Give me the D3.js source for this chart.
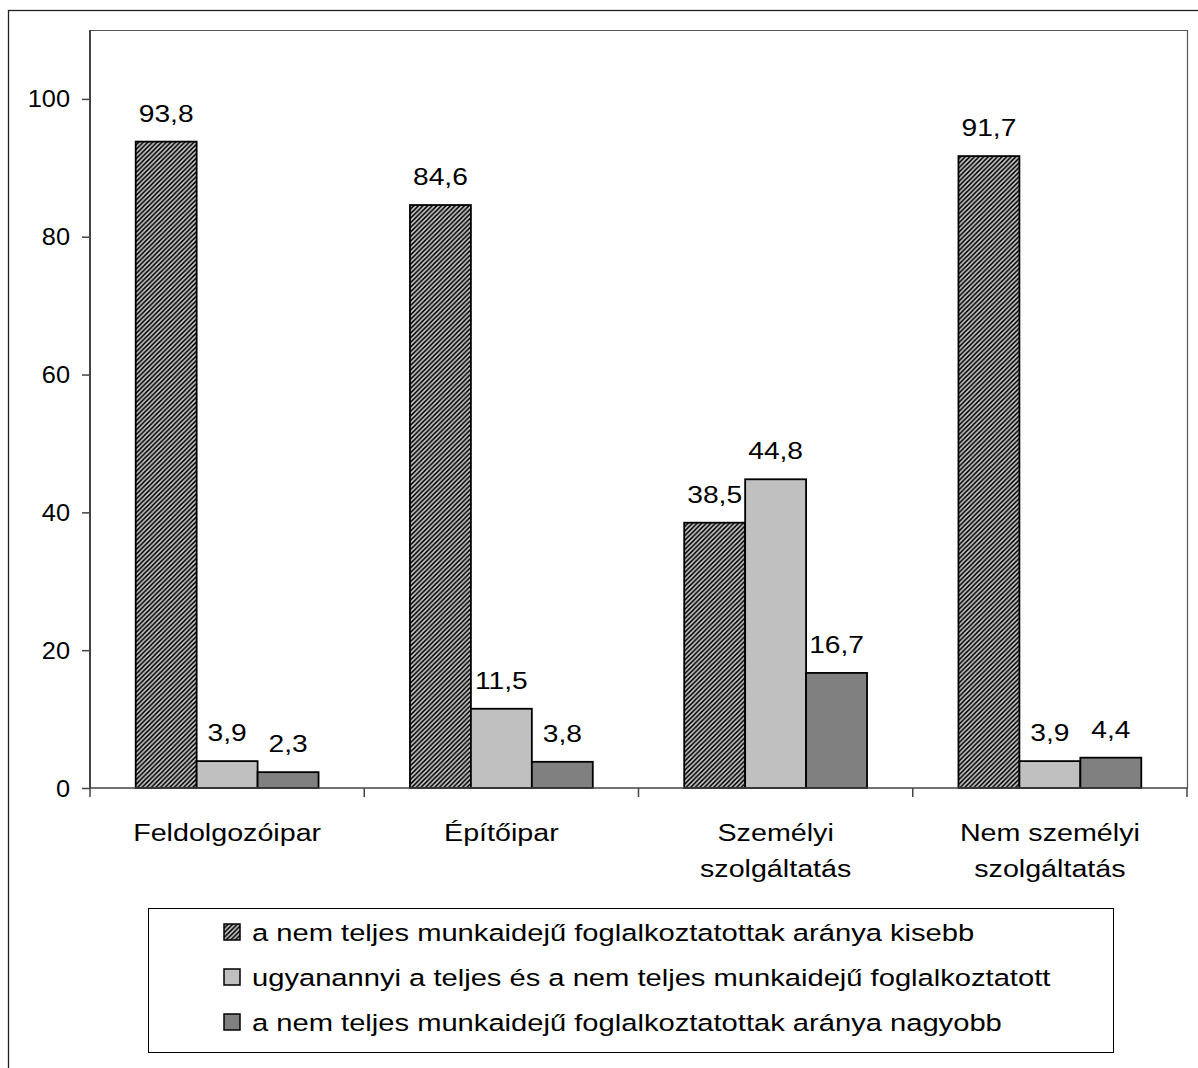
<!DOCTYPE html>
<html><head><meta charset="utf-8">
<script src="https://cdn.jsdelivr.net/npm/d3@7"></script>
<style>
html,body{margin:0;padding:0;background:#fff;}
svg{display:block;font-family:"Liberation Sans",Arial,sans-serif;}
</style></head>
<body><svg id="chart" width="1198" height="1068"></svg>
<script>
const categories = ["Feldolgozóipar", "Építőipar", "Személyi szolgáltatás", "Nem személyi szolgáltatás"];
const seriesNames = [
  "a nem teljes munkaidejű foglalkoztatottak aránya kisebb",
  "ugyanannyi a teljes és a nem teljes munkaidejű foglalkoztatott",
  "a nem teljes munkaidejű foglalkoztatottak aránya nagyobb"
];
const kisebb = [93.8, 84.6, 38.5, 91.7];
const ugyanannyi = [3.9, 11.5, 44.8, 3.9];
const nagyobb = [2.3, 3.8, 16.7, 4.4];
const yTicks = [0, 20, 40, 60, 80, 100];

const seriesValues = [kisebb, ugyanannyi, nagyobb];
const fills = ["url(#hatch)", "#c0c0c0", "#808080"];

const svg = d3.select("#chart");
const W = 1198, H = 1068;
const plot = {left: 90, right: 1187, top: 30, bottom: 788};
const SX = 1.15; // horizontal stretch of the original text rendering

function stretchedText(parent, px, py, str, size, anchor, sx) {
  return parent.append("text")
    .attr("transform", `translate(${px},${py}) scale(${sx || SX},1)`)
    .attr("text-anchor", anchor || "middle").attr("font-size", size)
    .attr("fill", "#000").text(str);
}

// hatch pattern
const defs = svg.append("defs");
const P = 4.6;
const pat = defs.append("pattern").attr("id", "hatch").attr("patternUnits", "userSpaceOnUse")
  .attr("width", P).attr("height", P);
pat.append("rect").attr("width", P).attr("height", P).attr("fill", "#000");
pat.append("path")
  .attr("d", `M0,${P} L${P},0 M${-P/2},${P/2} L${P/2},${-P/2} M${P/2},${P*1.5} L${P*1.5},${P/2}`)
  .attr("stroke", "#cfcfcf").attr("stroke-width", 1.6);

// outer border
svg.append("rect").attr("x", 8.5).attr("y", 10.5).attr("width", W + 20).attr("height", H + 20)
  .attr("fill", "none").attr("stroke", "#222").attr("stroke-width", 1.3);

const x = d3.scaleBand().domain(categories).range([plot.left, plot.right]).paddingInner(0).paddingOuter(0);
const xs = d3.scaleBand().domain(d3.range(seriesNames.length)).range([0, x.bandwidth()]).paddingInner(0).paddingOuter(0.75);
const y = d3.scaleLinear().domain([0, 110]).range([plot.bottom, plot.top]);

// plot frame (top & right)
svg.append("path")
  .attr("d", `M${plot.left},${plot.top + 0.5} H${plot.right + 0.5} V${plot.bottom}`)
  .attr("fill", "none").attr("stroke", "#555").attr("stroke-width", 1.2);

const fmt = v => d3.format(".1f")(v).replace(".", ",");

// bars
const groups = svg.append("g").selectAll("g").data(categories).join("g")
  .attr("transform", d => `translate(${x(d)},0)`);
groups.each(function(cat, ci) {
  const g = d3.select(this);
  seriesValues.forEach((vals, si) => {
    const v = vals[ci];
    g.append("rect")
      .attr("x", xs(si)).attr("y", y(v))
      .attr("width", xs.bandwidth()).attr("height", y(0) - y(v))
      .attr("fill", fills[si]).attr("stroke", "#000").attr("stroke-width", 1.8);
    stretchedText(g, xs(si) + xs.bandwidth() / 2, y(v) - 20, fmt(v), 24.5);
  });
});

// y axis (ticks from d3 axis, labels drawn stretched)
const yAxis = d3.axisLeft(y).tickValues(yTicks).tickSize(8).tickFormat("");
const ya = svg.append("g").attr("transform", `translate(${plot.left},0)`).call(yAxis);
ya.select(".domain").attr("stroke", "#444").attr("stroke-width", 2).attr("d", `M0,${plot.top} V${plot.bottom}`);
ya.selectAll(".tick line").attr("stroke", "#444").attr("stroke-width", 1.5);
yTicks.forEach(t => stretchedText(svg, 70, y(t) + 8.5, d3.format("d")(t), 23.5, "end", 1.08));

// x axis
const xa = svg.append("g").attr("transform", `translate(0,${plot.bottom})`);
xa.append("line").attr("x1", plot.left).attr("x2", plot.right + 1).attr("y1", 0).attr("y2", 0)
  .attr("stroke", "#444").attr("stroke-width", 1.5);
const bounds = categories.map(c => x(c)).concat([x(categories[categories.length - 1]) + x.bandwidth()]);
xa.selectAll("line.tk").data(bounds).join("line").attr("class", "tk")
  .attr("x1", d => d).attr("x2", d => d).attr("y1", 0).attr("y2", 9)
  .attr("stroke", "#444").attr("stroke-width", 1.5);

categories.forEach(c => {
  const i = c.lastIndexOf(" ");
  const lines = i > 0 ? [c.slice(0, i), c.slice(i + 1)] : [c];
  lines.forEach((ln, li) => {
    stretchedText(svg, x(c) + x.bandwidth() / 2, 841 + li * 36, ln, 24.5, "middle", 1.17);
  });
});

// legend
const lg = svg.append("g");
lg.append("rect").attr("x", 148.5).attr("y", 908.5).attr("width", 965).attr("height", 144)
  .attr("fill", "#fff").attr("stroke", "#000").attr("stroke-width", 1);
seriesNames.forEach((name, i) => {
  const cy = 932 + i * 45;
  lg.append("rect").attr("x", 224).attr("y", cy - 8).attr("width", 16).attr("height", 16)
    .attr("fill", fills[i]).attr("stroke", "#000").attr("stroke-width", 1.5);
  stretchedText(lg, 252, cy + 9, name, 24.5, "start", 1.19);
});
</script></body></html>
